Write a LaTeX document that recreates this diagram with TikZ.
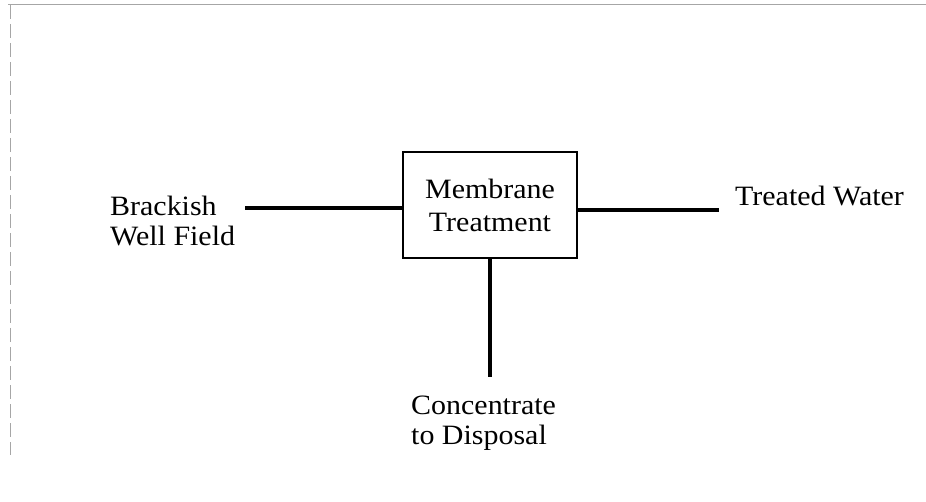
\documentclass[tikz,border=0pt]{standalone}
\usepackage{fontspec}
\setmainfont[FakeStretch=1.07]{Liberation Serif}
\begin{document}
\begin{tikzpicture}[x=1pt, y=-1pt,
  tag/.style={anchor=north west, align=left, inner sep=0pt, font=\fontsize{28}{30}\selectfont},
  unit/.style={draw, line width=1.6pt, minimum width=174pt, minimum height=106pt, align=center, font=\fontsize{28}{33}\selectfont},
  pipe/.style={line width=3.5pt}]
\useasboundingbox (0,0) rectangle (926,502);

% frame of the scanned page
\draw[gray!70, line width=1pt] (8,5) -- (926,5);
\draw[gray!70, line width=1pt, dash pattern=on 14pt off 5pt] (10,5) -- (10,455);

% the treatment unit
\node[unit] (membrane) at (490,205) {Membrane\\Treatment};

% labels
\node[tag] (well) at (110,196) {Brackish\\Well Field};
\node[tag] (treated) at (735,186) {Treated Water};
\node[tag] (conc) at (411,396) {Concentrate\\to Disposal};

% free ends of the pipes
\coordinate (wellin) at (245,208);
\coordinate (waterout) at (719,210);
\coordinate (concout) at (490,377);

% pipes
\draw[pipe] (wellin) -- (wellin -| membrane.west);
\draw[pipe] (waterout -| membrane.east) -- (waterout);
\draw[pipe] (membrane.south) -- (concout);
\end{tikzpicture}
\end{document}
